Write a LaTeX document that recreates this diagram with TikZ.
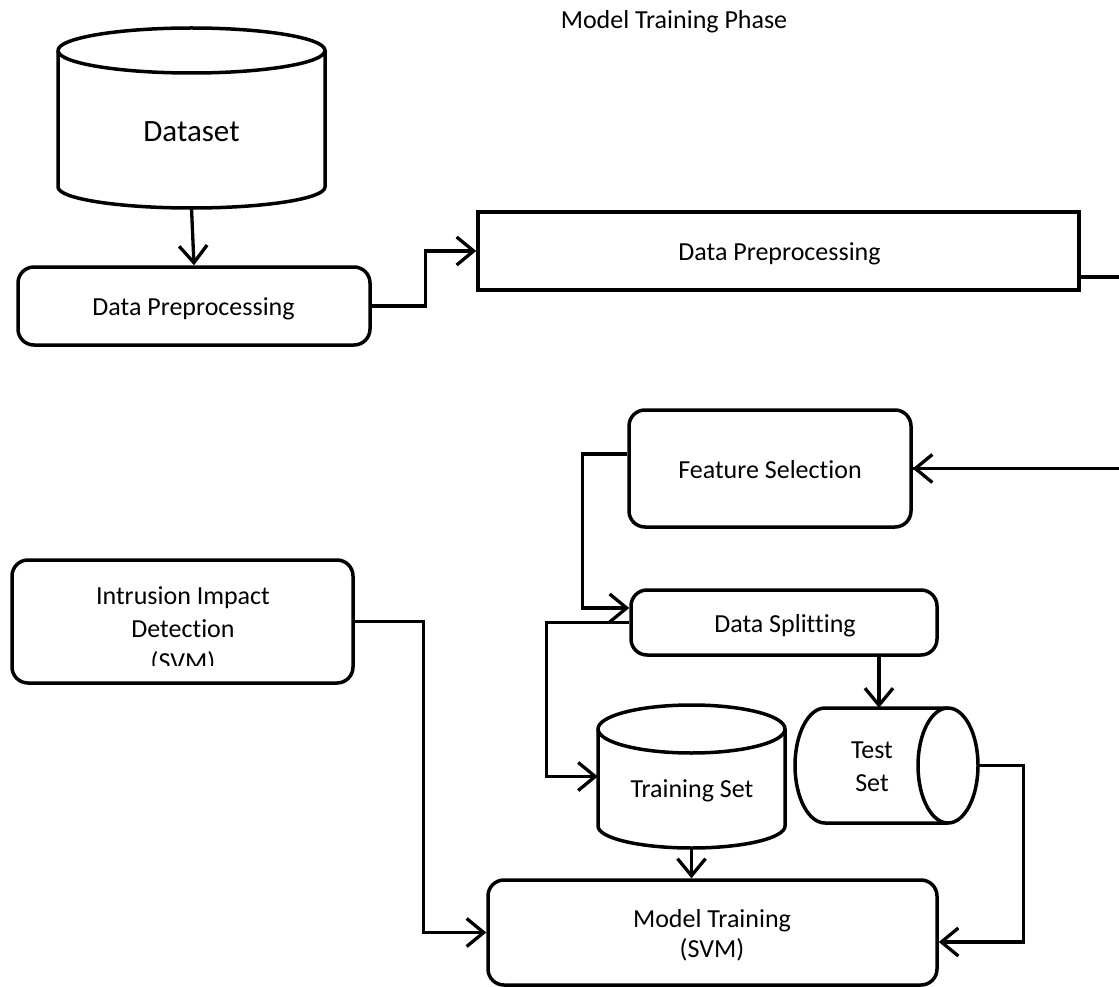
\documentclass[tikz,border=0pt]{standalone}
\usepackage{fontspec}
\setmainfont{Carlito}[Ligatures=NoCommon]
\usetikzlibrary{arrows.meta}
\begin{document}
\begin{tikzpicture}[x=1pt,y=1pt,
  box/.style={draw, line width=3.5pt, rounded corners=16pt, inner sep=0pt},
  sqbox/.style={draw, line width=3.5pt, inner sep=0pt},
  ghost/.style={inner sep=0pt},
  lbl/.style={font=\fontsize{26}{31}\selectfont, align=center, inner sep=0pt},
  shapeline/.style={line width=3.5pt, line join=round},
  arr/.style={line width=3.3pt, -{Straight Barb[length=17pt,width=28pt,line width=3.3pt]}},
  conn/.style={line width=3.3pt}]
\useasboundingbox (0,0) rectangle (1119,-987);
\fill[white] (0,0) rectangle (1119,-987);
\clip (0,0) rectangle (1119,-987);

% title
\node[lbl, anchor=base] (title) at (674,-29) {Model Training Phase};

% Dataset cylinder
\node[ghost, minimum width=267pt, minimum height=180pt] (dset) at (191.5,-118) {};
\draw[shapeline] (58,-50.5) -- (58,-187)
  arc[start angle=180,end angle=360,x radius=133.5pt,y radius=21pt]
  -- (325,-50.5)
  arc[start angle=0,end angle=180,x radius=133.5pt,y radius=22.5pt] -- cycle;
\draw[shapeline] (58,-50.5) arc[start angle=180,end angle=360,x radius=133.5pt,y radius=22.5pt];
\node[lbl, font=\fontsize{31}{37}\selectfont, anchor=base] (dsettxt) at (191.5,-142) {Dataset};

% Data preprocessing (left)
\node[box, minimum width=352pt, minimum height=78pt] (dp1) at (194,-306) {};
\node[lbl, anchor=base] (dp1txt) at (193.5,-315) {Data Preprocessing};

% Data preprocessing (right)
\node[sqbox, minimum width=601pt, minimum height=78pt] (dp2) at (778.5,-251) {};
\node[lbl, anchor=base] (dp2txt) at (779.5,-260) {Data Preprocessing};

% Feature selection
\node[box, minimum width=282pt, minimum height=117pt] (fs) at (770,-468.5) {};
\node[lbl, anchor=base] (fstxt) at (770,-478) {Feature Selection};

% Data splitting
\node[box, minimum width=306pt, minimum height=65pt] (split) at (784,-622.5) {};
\node[lbl, anchor=base] (splittxt) at (785,-632) {Data Splitting};

% Training set cylinder
\node[ghost, minimum width=187pt, minimum height=143pt] (ts) at (691.5,-776.5) {};
\draw[shapeline] (598,-729) -- (598,-826)
  arc[start angle=180,end angle=360,x radius=93.5pt,y radius=22pt]
  -- (785,-729)
  arc[start angle=0,end angle=180,x radius=93.5pt,y radius=24pt] -- cycle;
\draw[shapeline] (598,-729) arc[start angle=180,end angle=360,x radius=93.5pt,y radius=24pt];
\node[lbl, anchor=base] (tstxt) at (692,-797) {Training Set};

% Test set cylinder (horizontal)
\node[ghost, minimum width=183pt, minimum height=115pt] (tst) at (886.5,-765.5) {};
\draw[shapeline] (825,-708)
  arc[start angle=90,end angle=270,x radius=30pt,y radius=57.5pt]
  -- (948,-823)
  arc[start angle=-90,end angle=90,x radius=30pt,y radius=57.5pt] -- cycle;
\draw[shapeline] (948,-708) arc[start angle=90,end angle=270,x radius=30pt,y radius=57.5pt];
\node[lbl, font=\fontsize{26}{33}\selectfont] (tsttxt) at (872,-767) {Test\\Set};

% Intrusion impact detection
\node[box, minimum width=341pt, minimum height=123pt] (intr) at (182.5,-621.5) {};
\begin{scope}
\clip (12,-560) rectangle (353,-665);
\node[lbl, font=\fontsize{26}{33}\selectfont] (intrtxt) at (183,-630.5) {Intrusion Impact\\Detection\\(SVM)};
\end{scope}

% Model training
\node[box, minimum width=449pt, minimum height=105pt] (mt) at (712.5,-932.5) {};
\node[lbl, font=\fontsize{26}{30}\selectfont] (mttxt) at (712,-935) {Model Training\\(SVM)};

% connectors
\draw[arr] (dset.south) -- (dp1.north);
\draw[arr] (dp1.east) -- ++(54,0) |- (dp2.west);
\draw[conn] ([yshift=-26pt]dp2.east) -- ++(80,0) |- (fs.east);
\draw[arr] (1135,-468.5) -- (fs.east);
\draw[arr] ([yshift=14.5pt]fs.west) -- ++(-45,0) |- ([yshift=14.5pt]split.west);
\draw[arr] (split.west) -- ++(-83,0) |- (ts.west);
\draw[arr] ([xshift=95pt]split.south) -- ([xshift=-7.5pt]tst.north);
\draw[arr] (ts.south) -- (ts.south |- mt.north);
\draw[arr] (tst.east) -- ++(45,0) |- ([yshift=-9.5pt]mt.east);
\draw[arr] (intr.east) -- ++(69,0) |- (mt.west);
\end{tikzpicture}
\end{document}
